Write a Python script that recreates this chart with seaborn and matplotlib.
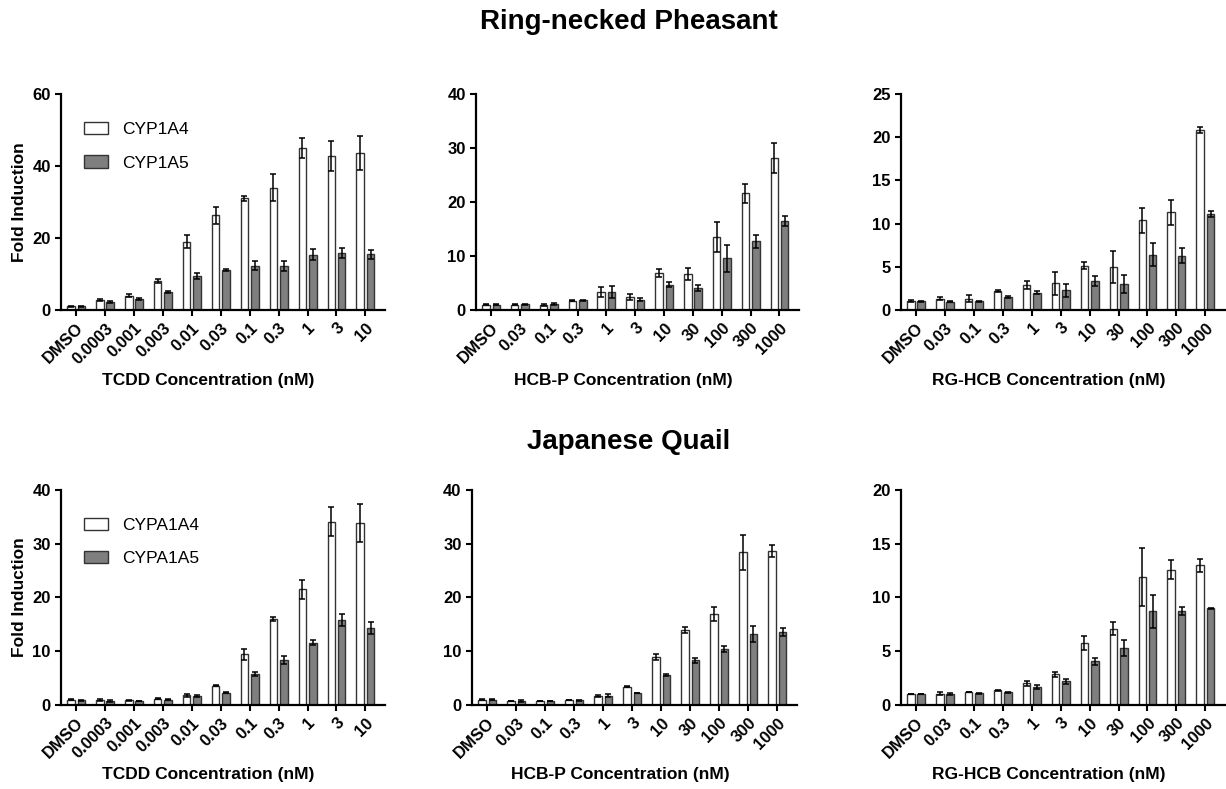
import numpy as np
import pandas as pd
import matplotlib
matplotlib.use("Agg")
import matplotlib.pyplot as plt
import seaborn as sns

# ---- categories ----
tcdd_doses = ['DMSO', '0.0003', '0.001', '0.003', '0.01', '0.03', '0.1', '0.3', '1', '3', '10']
hcb_doses = ['DMSO', '0.03', '0.1', '0.3', '1', '3', '10', '30', '100', '300', '1000']

# ---- Ring-necked Pheasant ----
ph_tcdd_a4 = [1.0, 2.7, 4.0, 8.0, 19.0, 26.3, 31.0, 34.0, 44.9, 42.7, 43.7]
ph_tcdd_a4_err = [0.2, 0.3, 0.5, 0.6, 1.7, 2.3, 0.6, 3.8, 2.8, 4.1, 4.7]
ph_tcdd_a5 = [1.0, 2.2, 3.0, 5.0, 9.4, 11.2, 12.3, 12.2, 15.4, 15.8, 15.5]
ph_tcdd_a5_err = [0.1, 0.3, 0.3, 0.3, 0.8, 0.3, 1.3, 1.5, 1.5, 1.4, 1.2]

ph_hcbp_a4 = [1.0, 1.0, 0.9, 1.7, 3.3, 2.4, 6.8, 6.6, 13.5, 21.6, 28.2]
ph_hcbp_a4_err = [0.1, 0.15, 0.15, 0.1, 0.9, 0.5, 0.75, 1.1, 2.8, 1.7, 2.8]
ph_hcbp_a5 = [1.0, 1.1, 1.1, 1.8, 3.4, 1.9, 4.7, 4.1, 9.6, 12.7, 16.5]
ph_hcbp_a5_err = [0.05, 0.1, 0.15, 0.1, 1.1, 0.3, 0.5, 0.5, 2.5, 1.2, 0.9]

ph_rg_a4 = [1.0, 1.3, 1.3, 2.2, 2.9, 3.1, 5.1, 5.0, 10.4, 11.3, 20.8]
ph_rg_a4_err = [0.1, 0.15, 0.4, 0.15, 0.5, 1.35, 0.4, 1.85, 1.45, 1.45, 0.35]
ph_rg_a5 = [1.0, 0.95, 1.0, 1.5, 2.0, 2.3, 3.35, 3.0, 6.4, 6.3, 11.1]
ph_rg_a5_err = [0.05, 0.05, 0.05, 0.1, 0.2, 0.75, 0.55, 1.05, 1.3, 0.9, 0.3]

# ---- Japanese Quail ----
jq_tcdd_a4 = [1.0, 0.9, 0.9, 1.2, 1.8, 3.6, 9.4, 16.0, 21.5, 34.1, 33.8]
jq_tcdd_a4_err = [0.1, 0.15, 0.1, 0.1, 0.3, 0.15, 1.0, 0.4, 1.7, 2.7, 3.5]
jq_tcdd_a5 = [0.9, 0.8, 0.7, 1.0, 1.7, 2.3, 5.8, 8.4, 11.6, 15.8, 14.3]
jq_tcdd_a5_err = [0.1, 0.2, 0.05, 0.1, 0.15, 0.05, 0.35, 0.7, 0.5, 1.2, 1.05]

jq_hcbp_a4 = [1.0, 0.7, 0.75, 0.95, 1.7, 3.4, 8.9, 13.9, 16.9, 28.4, 28.7]
jq_hcbp_a4_err = [0.05, 0.05, 0.05, 0.05, 0.15, 0.05, 0.5, 0.55, 1.3, 3.2, 1.1]
jq_hcbp_a5 = [1.0, 0.8, 0.75, 0.85, 1.7, 2.2, 5.6, 8.3, 10.4, 13.2, 13.6]
jq_hcbp_a5_err = [0.05, 0.2, 0.05, 0.15, 0.25, 0.05, 0.15, 0.45, 0.5, 1.4, 0.8]

jq_rg_a4 = [1.0, 1.05, 1.2, 1.35, 2.0, 2.85, 5.8, 7.1, 11.9, 12.6, 13.0]
jq_rg_a4_err = [0.02, 0.15, 0.03, 0.05, 0.25, 0.25, 0.65, 0.6, 2.7, 0.9, 0.6]
jq_rg_a5 = [1.0, 1.0, 1.1, 1.2, 1.65, 2.2, 4.05, 5.3, 8.7, 8.75, 9.0]
jq_rg_a5_err = [0.02, 0.1, 0.05, 0.05, 0.2, 0.25, 0.3, 0.75, 1.5, 0.35, 0.05]

ph_labels = ['CYP1A4', 'CYP1A5']
jq_labels = ['CYPA1A4', 'CYPA1A5']

panels = [
    # (doses, a4, a4_err, a5, a5_err, labels, xlabel, ymax, ystep, legend, pos)
    (tcdd_doses, ph_tcdd_a4, ph_tcdd_a4_err, ph_tcdd_a5, ph_tcdd_a5_err, ph_labels,
     'TCDD Concentration (nM)', 60, 20, True, [0.0498, 0.6071, 0.2643, 0.2738]),
    (hcb_doses, ph_hcbp_a4, ph_hcbp_a4_err, ph_hcbp_a5, ph_hcbp_a5_err, ph_labels,
     'HCB-P Concentration (nM)', 40, 10, False, [0.3883, 0.6071, 0.2635, 0.2738]),
    (hcb_doses, ph_rg_a4, ph_rg_a4_err, ph_rg_a5, ph_rg_a5_err, ph_labels,
     'RG-HCB Concentration (nM)', 25, 5, False, [0.7349, 0.6071, 0.2643, 0.2738]),
    (tcdd_doses, jq_tcdd_a4, jq_tcdd_a4_err, jq_tcdd_a5, jq_tcdd_a5_err, jq_labels,
     'TCDD Concentration (nM)', 40, 10, True, [0.0498, 0.1065, 0.2643, 0.2725]),
    (hcb_doses, jq_hcbp_a4, jq_hcbp_a4_err, jq_hcbp_a5, jq_hcbp_a5_err, jq_labels,
     'HCB-P Concentration (nM)', 40, 10, False, [0.3850, 0.1065, 0.2651, 0.2725]),
    (hcb_doses, jq_rg_a4, jq_rg_a4_err, jq_rg_a5, jq_rg_a5_err, jq_labels,
     'RG-HCB Concentration (nM)', 20, 5, False, [0.7349, 0.1065, 0.2643, 0.2725]),
]

sns.set_style('ticks')
plt.rcParams['font.family'] = ['Liberation Sans', 'DejaVu Sans']
plt.rcParams['axes.linewidth'] = 1.6
for key in ['text.color', 'axes.labelcolor', 'xtick.color', 'ytick.color', 'axes.edgecolor']:
    plt.rcParams[key] = 'black'

fig = plt.figure(figsize=(12.26, 7.89), dpi=100)

for doses, a4, a4_err, a5, a5_err, labels, xlabel, ymax, ystep, show_leg, pos in panels:
    ax = fig.add_axes(pos)
    df = pd.DataFrame({
        'dose': doses + doses,
        'value': a4 + a5,
        'gene': [labels[0]] * len(doses) + [labels[1]] * len(doses),
    })
    sns.barplot(data=df, x='dose', y='value', hue='gene', hue_order=labels,
                order=doses, palette=['white', '#7f7f7f'], edgecolor='#333333',
                linewidth=1.0, width=0.72, gap=0.28, errorbar=None,
                legend=show_leg, ax=ax)

    # error bars (mean +/- SEM)
    for cont, err in zip(ax.containers, [a4_err, a5_err]):
        xs = [b.get_x() + b.get_width() / 2 for b in cont]
        ys = [b.get_height() for b in cont]
        ax.errorbar(xs, ys, yerr=err, fmt='none', ecolor='black',
                    elinewidth=1.1, capsize=2.5, capthick=1.1, zorder=3)

    ax.set_xlim(-0.52, 10.68)
    ax.set_ylim(0, ymax)
    ax.set_yticks(np.arange(0, ymax + 1, ystep))
    sns.despine(ax=ax)
    ax.tick_params(axis='both', direction='out', length=4, width=1.5,
                   labelsize=12)
    for t in ax.get_yticklabels():
        t.set_fontweight('bold')
    ax.set_xticks(range(len(doses)))
    ax.set_xticklabels(doses, rotation=45, ha='right', rotation_mode='anchor',
                       fontweight='bold', fontsize=12)

    ax.set_xlabel(xlabel, fontsize=12.5, fontweight='bold')
    ax.xaxis.set_label_coords(0.455, -0.29)
    if show_leg:
        ax.set_ylabel('Fold Induction', fontsize=12.5, fontweight='bold')
        ax.yaxis.set_label_coords(-0.105, 0.5)
        handles, labs = ax.get_legend_handles_labels()
        ax.legend(handles, labs, loc='upper left', bbox_to_anchor=(0.07, 0.87),
                  frameon=False, fontsize=12.5, borderpad=0, borderaxespad=0,
                  handlelength=1.4, handleheight=0.7, handletextpad=0.8,
                  labelspacing=1.05)
    else:
        ax.set_ylabel('')

fig.text(0.513, 0.972, 'Ring-necked Pheasant', ha='center', va='center',
         fontsize=20, fontweight='bold')
fig.text(0.513, 0.44, 'Japanese Quail', ha='center', va='center',
         fontsize=20, fontweight='bold')

fig.savefig('out.png', dpi=100)
